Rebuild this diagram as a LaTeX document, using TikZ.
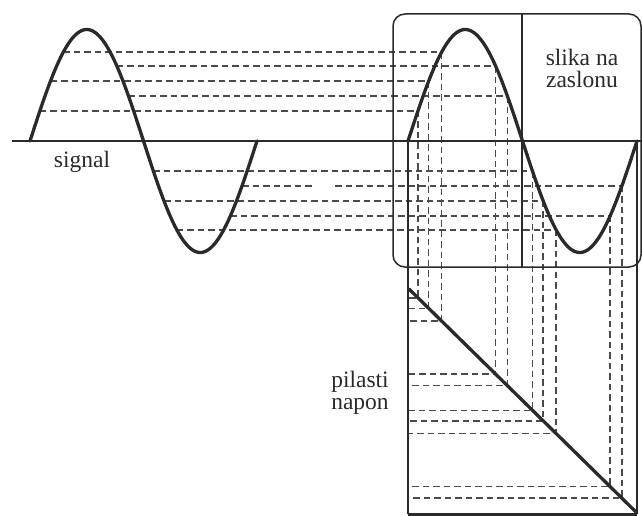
\documentclass[tikz,border=0pt]{standalone}
\usepackage{fontspec}
\setmainfont{Liberation Serif}
\definecolor{ink}{HTML}{2A2A2A}
\begin{document}
\begin{tikzpicture}[x=1pt,y=-1pt,
  thinline/.style={draw=ink,line width=1.5pt},
  dashline/.style={draw=ink!85,line width=1.5pt,dash pattern=on 6.5pt off 4pt},
  thickline/.style={draw=ink,line width=3.3pt,line cap=round,line join=round},
  lbl/.style={font=\fontsize{23.5}{22}\selectfont,align=center,text=ink,inner sep=0pt}]
\useasboundingbox (0,0) rectangle (642,516);
% samples
\foreach \p [count=\i] in {15.61,32.54,52.94,137.73,156.21,195.61,212.54,232.94,317.73,336.21} {
  \pgfmathsetmacro\yy{141-111.5*sin(\p)}
  \pgfmathsetmacro\xl{30+0.630556*\p}
  \pgfmathsetmacro\xs{408+0.636111*\p}
  \pgfmathsetmacro\yr{289+0.982456*(\xs-409)}
  \coordinate (L\i) at (\xl,\yy);
  \coordinate (S\i) at (\xs,\yy);
  \coordinate (R\i) at (\xs,\yr);
  \coordinate (E\i) at (408,\yr);
  \draw[dashline] (S\i) -- (R\i) -- (E\i);
  \ifnum\i=10
    \draw[dashline] (L\i) -- (313,\yy);
    \draw[dashline] (335,\yy) -- (S\i);
  \else
    \draw[dashline] (L\i) -- (S\i);
  \fi
}
% frames
\draw[thinline,rounded corners=12pt] (393,14) rectangle (641,267);
\draw[thinline] (522,14) -- (522,267);
\draw[thinline] (12,141) -- (642,141);
\draw[thinline] (408,141) -- (408,514);
\draw[thinline] (637,141) -- (637,514);
\draw[draw=ink,line width=3pt] (408,514) -- (637,514);
% curves
\draw[thickline] plot[domain=0:360,samples=120,smooth] ({30+0.630556*\x},{141-111.5*sin(\x)});
\draw[thickline] plot[domain=0:360,samples=120,smooth] ({408+0.636111*\x},{141-111.5*sin(\x)});
\draw[thickline] (409,289) -- (637,513);
% labels
\node[lbl] (signal) at (82,162) {signal};
\node[lbl] (zaslon) at (582,68) {slika na\\zaslonu};
\node[lbl] (pilasti) at (360,393) {pilasti\\napon};
\end{tikzpicture}
\end{document}
